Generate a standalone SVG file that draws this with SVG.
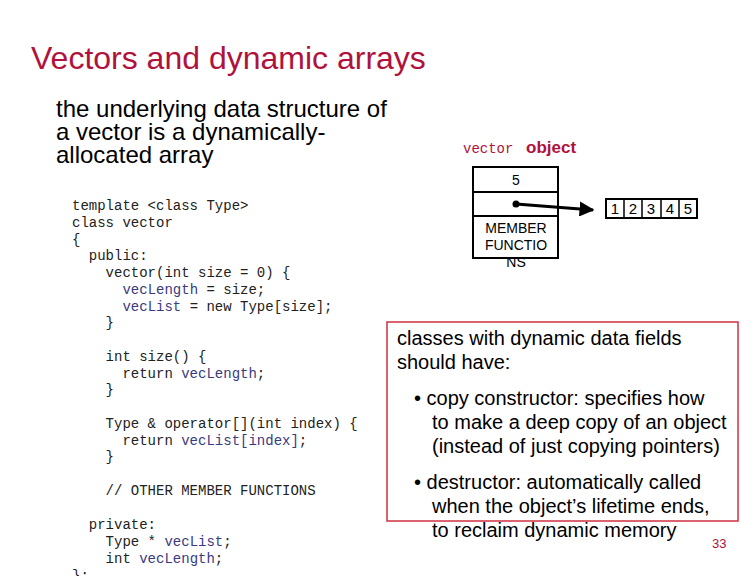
<svg xmlns="http://www.w3.org/2000/svg" width="756" height="576" viewBox="0 0 756 576">
<style>
.s{font-family:"Liberation Sans",Arial,sans-serif}
.m{font-family:"Liberation Mono","Courier New",monospace;font-size:14px;fill:#222}
.v{fill:#3a3a80}
.b{fill:#fff;stroke:#000;stroke-width:2}
</style>
<defs><marker id="a" viewBox="0 0 10 10" refX="9" refY="5" markerWidth="5" markerHeight="5" orient="auto"><path d="M0,0L10,5L0,10z" fill="#000"/></marker></defs>
<rect width="756" height="576" fill="#fff"/>
<text x="31" y="69" class="s" font-size="32" fill="#b0123c">Vectors and dynamic arrays</text>
<text class="s" font-size="24" fill="#000"><tspan x="56" y="117">the underlying data structure of</tspan><tspan x="56" y="140">a vector is a dynamically-</tspan><tspan x="56" y="163">allocated array</tspan></text>
<text class="m" xml:space="preserve"><tspan x="72" y="210">template &lt;class Type&gt;</tspan><tspan x="72" y="227">class vector</tspan><tspan x="72" y="244">{</tspan><tspan x="72" y="260">  public:</tspan><tspan x="72" y="277">    vector(int size = 0) {</tspan><tspan x="72" y="294">      <tspan class="v">vecLength</tspan> = size;</tspan><tspan x="72" y="311">      <tspan class="v">vecList</tspan> = new Type[size];</tspan><tspan x="72" y="327">    }</tspan><tspan x="72" y="361">    int size() {</tspan><tspan x="72" y="378">      return <tspan class="v">vecLength</tspan>;</tspan><tspan x="72" y="394">    }</tspan><tspan x="72" y="428">    Type &amp; operator[](int index) {</tspan><tspan x="72" y="445">      return <tspan class="v">vecList[index]</tspan>;</tspan><tspan x="72" y="461">    }</tspan><tspan x="72" y="495">    // OTHER MEMBER FUNCTIONS</tspan><tspan x="72" y="529">  private:</tspan><tspan x="72" y="546">    Type * <tspan class="v">vecList</tspan>;</tspan><tspan x="72" y="563">    int <tspan class="v">vecLength</tspan>;</tspan><tspan x="72" y="580">};</tspan></text>
<g id="vector-object">
<text x="463" y="153" class="m" style="fill:#b0123c">vector</text>
<text x="526" y="153" class="s" font-size="17" font-weight="bold" fill="#b0123c">object</text>
<rect x="473" y="167" width="85" height="91" class="b"/>
<line x1="473" y1="192" x2="558" y2="192" stroke="#000" stroke-width="2"/>
<line x1="473" y1="216" x2="558" y2="216" stroke="#000" stroke-width="2"/>
<text x="516" y="185" class="s" font-size="14" text-anchor="middle">5</text>
<text class="s" font-size="14" text-anchor="middle"><tspan x="516" y="233">MEMBER</tspan><tspan x="516" y="250">FUNCTIO</tspan><tspan x="516" y="267">NS</tspan></text>
<circle cx="516" cy="204" r="3.5" fill="#000"/>
</g>
<g id="array">
<rect x="606" y="199" width="91" height="19" fill="#fff" stroke="#000" stroke-width="2"/>
<path d="M624,199V218M642,199V218M661,199V218M679,199V218" stroke="#000" stroke-width="1.5"/>
<g class="s" font-size="15" text-anchor="middle"><text x="615" y="214">1</text><text x="633" y="214">2</text><text x="651" y="214">3</text><text x="670" y="214">4</text><text x="688" y="214">5</text></g>
</g>
<g id="connectors"><line x1="516" y1="204" x2="593" y2="210" stroke="#000" stroke-width="3" marker-end="url(#a)"/></g>
<g id="note">
<rect x="387" y="322" width="351" height="199" fill="none" stroke="#d03040" stroke-width="1.5"/>
<text class="s" font-size="20" fill="#000"><tspan x="397" y="345">classes with dynamic data fields</tspan><tspan x="397" y="369">should have:</tspan></text>
<text class="s" font-size="20"><tspan x="414" y="405">• copy constructor: specifies how</tspan><tspan x="432" y="429">to make a deep copy of an object</tspan><tspan x="432" y="453">(instead of just copying pointers)</tspan></text>
<text class="s" font-size="20"><tspan x="414" y="489">• destructor: automatically called</tspan><tspan x="432" y="513">when the object’s lifetime ends,</tspan><tspan x="432" y="537">to reclaim dynamic memory</tspan></text>
<text x="712" y="548" class="s" font-size="13" fill="#b0123c">33</text>
</g>
</svg>
